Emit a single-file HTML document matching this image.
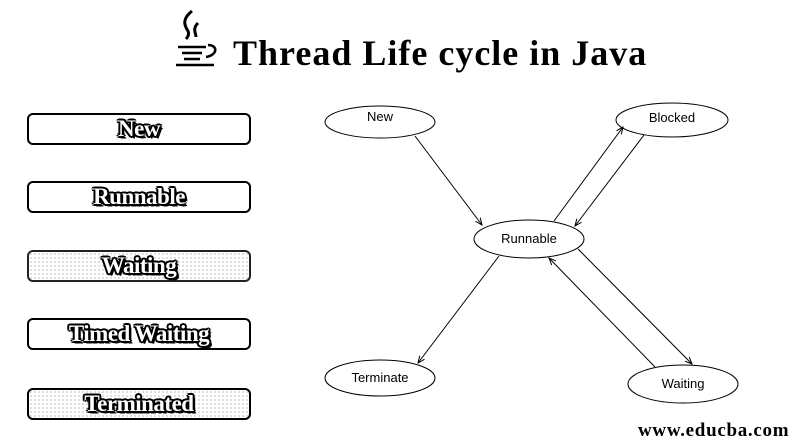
<!DOCTYPE html>
<html><head><meta charset="utf-8"><style>
body{margin:0;background:#fff;width:805px;height:445px;overflow:hidden;position:relative;font-family:"Liberation Serif",serif}
.box{position:absolute;left:27px;width:220px;height:28px;border:2px solid #000;border-radius:6px;text-align:center;line-height:28px;font-weight:bold;font-size:23px;letter-spacing:-0.5px;color:#fff;text-shadow:-1.5px -1.5px 0 #000,1.5px -1.5px 0 #000,-1.5px 1.5px 0 #000,1.5px 1.5px 0 #000,0 2px 0 #000,2px 0 0 #000,-2px 0 0 #000,0 -2px 0 #000,2.5px 2.5px 0 #000}
.dot{background-image:radial-gradient(#888 0.6px,transparent 0.8px);background-size:4px 4px}
</style></head><body>
<div style="position:absolute;left:233px;top:33px;font-size:36px;letter-spacing:1px;font-weight:bold;line-height:40px">Thread Life cycle in Java</div>
<svg style="position:absolute;left:170px;top:5px" width="62" height="65" viewBox="0 0 62 65">
<path d="M22 6 C12 14,14 20,18 26 C20 30,16 34,16 34 M28 18 C22 24,26 28,26 32" stroke="#000" stroke-width="3" fill="none"/>
<path d="M8 42 H36 M12 48 H32 M14 54 H30 M6 60 H44 M38 40 C48 40,48 50,36 52" stroke="#000" stroke-width="2.5" fill="none"/>
</svg>
<div class="box" style="top:113px">New</div>
<div class="box" style="top:181px">Runnable</div>
<div class="box dot" style="top:250px;border-color:#222">Waiting</div>
<div class="box" style="top:318px">Timed Waiting</div>
<div class="box dot" style="top:388px">Terminated</div>
<svg style="position:absolute;left:0;top:0" width="805" height="445" font-family="Liberation Sans, sans-serif" font-size="13">
<defs><marker id="a" markerWidth="8" markerHeight="8" refX="7" refY="4" orient="auto" markerUnits="userSpaceOnUse"><path d="M0,1 L7,4 L0,7" fill="none" stroke="#000"/></marker></defs>
<g fill="#fff" stroke="#000" stroke-width="1">
<ellipse cx="380" cy="122" rx="55" ry="16"/>
<ellipse cx="672" cy="120" rx="56" ry="17"/>
<ellipse cx="529" cy="239" rx="55" ry="19"/>
<ellipse cx="380" cy="378" rx="55" ry="18"/>
<ellipse cx="683" cy="384" rx="55" ry="19"/>
</g>
<g stroke="#000" stroke-width="1" marker-end="url(#a)">
<line x1="415" y1="136" x2="482" y2="225"/>
<line x1="554" y1="221" x2="623" y2="127"/>
<line x1="644" y1="135" x2="575" y2="226"/>
<line x1="499" y1="256" x2="418" y2="363"/>
<line x1="578" y1="249" x2="692" y2="364"/>
<line x1="655" y1="367" x2="549" y2="258"/>
</g>
<g text-anchor="middle">
<text x="380" y="121">New</text>
<text x="672" y="122">Blocked</text>
<text x="529" y="243">Runnable</text>
<text x="380" y="382">Terminate</text>
<text x="683" y="388">Waiting</text>
</g>
</svg>
<div style="position:absolute;left:638px;top:420px;font-size:19px;letter-spacing:0.7px;font-weight:bold">www.educba.com</div>
</body></html>
